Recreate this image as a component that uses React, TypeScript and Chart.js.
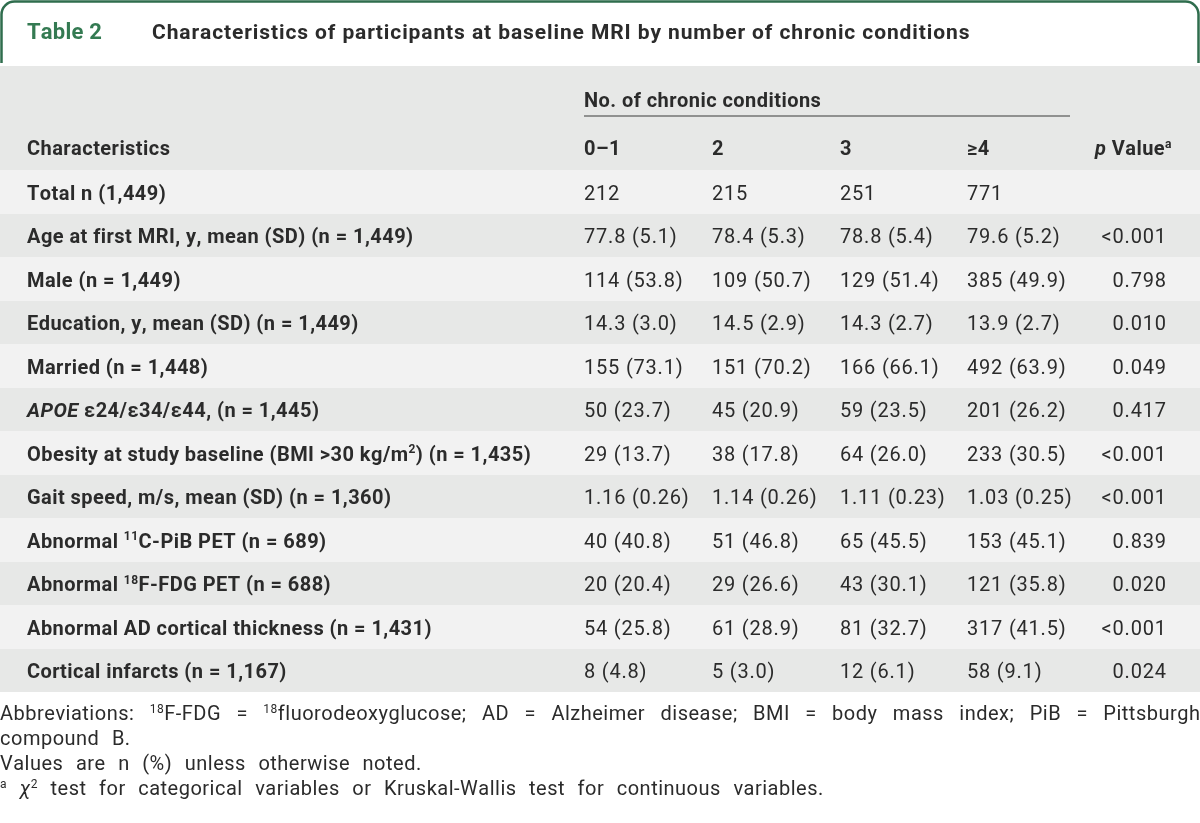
import React, { useEffect, useRef } from 'react';
import { Chart, registerables } from 'chart.js';

Chart.register(...registerables);

// ---------- data ----------
const tableNumber = 'Table 2';
const tableTitle = 'Characteristics of participants at baseline MRI by number of chronic conditions';
const spanHeader = 'No. of chronic conditions';
const stubHeader = 'Characteristics';
const groupHeaders = ['0–1', '2', '3', '≥4'];
const pHeader = '*p* Value^a^';

const rowLabels = [
  'Total n (1,449)',
  'Age at first MRI, y, mean (SD) (n = 1,449)',
  'Male (n = 1,449)',
  'Education, y, mean (SD) (n = 1,449)',
  'Married (n = 1,448)',
  '*APOE* ε24/ε34/ε44, (n = 1,445)',
  'Obesity at study baseline (BMI >30 kg/m^2^) (n = 1,435)',
  'Gait speed, m/s, mean (SD) (n = 1,360)',
  'Abnormal ^11^C-PiB PET (n = 689)',
  'Abnormal ^18^F-FDG PET (n = 688)',
  'Abnormal AD cortical thickness (n = 1,431)',
  'Cortical infarcts (n = 1,167)',
];

const group01 = ['212', '77.8 (5.1)', '114 (53.8)', '14.3 (3.0)', '155 (73.1)', '50 (23.7)', '29 (13.7)', '1.16 (0.26)', '40 (40.8)', '20 (20.4)', '54 (25.8)', '8 (4.8)'];
const group2 = ['215', '78.4 (5.3)', '109 (50.7)', '14.5 (2.9)', '151 (70.2)', '45 (20.9)', '38 (17.8)', '1.14 (0.26)', '51 (46.8)', '29 (26.6)', '61 (28.9)', '5 (3.0)'];
const group3 = ['251', '78.8 (5.4)', '129 (51.4)', '14.3 (2.7)', '166 (66.1)', '59 (23.5)', '64 (26.0)', '1.11 (0.23)', '65 (45.5)', '43 (30.1)', '81 (32.7)', '12 (6.1)'];
const group4 = ['771', '79.6 (5.2)', '385 (49.9)', '13.9 (2.7)', '492 (63.9)', '201 (26.2)', '233 (30.5)', '1.03 (0.25)', '153 (45.1)', '121 (35.8)', '317 (41.5)', '58 (9.1)'];
const pValues = ['', '<0.001', '0.798', '0.010', '0.049', '0.417', '<0.001', '<0.001', '0.839', '0.020', '<0.001', '0.024'];

const footnotes = [
  'Abbreviations: ^18^F-FDG = ^18^fluorodeoxyglucose; AD = Alzheimer disease; BMI = body mass index; PiB = Pittsburgh',
  'compound B.',
  'Values are n (%) unless otherwise noted.',
  '^a^ *χ*^2^ test for categorical variables or Kruskal-Wallis test for continuous variables.',
];

// ---------- layout / style ----------
const W = 1200;
const H = 823;
const FONT = 'Roboto, "Noto Sans", sans-serif';
const TEXT = '#2b2b2b';
const GREEN = '#2f6d4d';
const GREEN_TEXT = '#347a52';
const BAND_DARK = '#e7e8e7';
const BAND_LIGHT = '#f2f2f2';
const LAYOUT = {
  tableTop: 170,
  tableBottomPad: 131,
  stubX: 27,
  groupX: [584, 712, 840, 967],
  pRight: 1166,
  pHeaderX: 1095,
  ruleRight: 1070,
  headBandTop: 66,
};

type Seg = { t: string; sup: boolean; it: boolean };
type Style = { size: number; weight: string; color: string; ls: number; ws?: number };

const S_TITLE_NUM: Style = { size: 22, weight: 'bold', color: GREEN_TEXT, ls: 0.2 };
const S_TITLE: Style = { size: 21, weight: 'bold', color: TEXT, ls: 0.9 };
const S_HEAD: Style = { size: 20, weight: 'bold', color: TEXT, ls: 0.45 };
const S_LABEL: Style = { size: 20, weight: 'bold', color: TEXT, ls: 0.45 };
const S_VALUE: Style = { size: 20, weight: 'normal', color: TEXT, ls: 0.8 };
const S_FOOT: Style = { size: 20, weight: 'normal', color: TEXT, ls: 0.5, ws: 12.5 };

function parse(s: string): Seg[] {
  const out: Seg[] = [];
  const re = /\*([^*]+)\*|\^([^^]+)\^|([^*^]+)/g;
  let m: RegExpExecArray | null;
  while ((m = re.exec(s))) {
    if (m[1] !== undefined) out.push({ t: m[1], sup: false, it: true });
    else if (m[2] !== undefined) out.push({ t: m[2], sup: true, it: false });
    else out.push({ t: m[3], sup: false, it: false });
  }
  return out;
}

function segFont(seg: Seg, st: Style) {
  const sz = seg.sup ? Math.round(st.size * 0.62) : st.size;
  return `${seg.it ? 'italic ' : ''}${st.weight} ${sz}px ${FONT}`;
}

function charAdvance(ctx: CanvasRenderingContext2D, ch: string, st: Style) {
  if (ch === ' ' && st.ws !== undefined) return st.ws;
  return ctx.measureText(ch).width + st.ls;
}

function segWidth(ctx: CanvasRenderingContext2D, seg: Seg, st: Style) {
  ctx.font = segFont(seg, st);
  let w = 0;
  for (const ch of seg.t) w += charAdvance(ctx, ch, st);
  return w;
}

function measureRich(ctx: CanvasRenderingContext2D, s: string, st: Style) {
  let w = 0;
  for (const seg of parse(s)) w += segWidth(ctx, seg, st);
  return w;
}

function drawRich(ctx: CanvasRenderingContext2D, s: string, x: number, cy: number, st: Style, align: 'left' | 'right' = 'left') {
  const width = measureRich(ctx, s, st);
  let cx = align === 'right' ? x - width + st.ls : x;
  const base = cy + st.size * 0.36;
  ctx.fillStyle = st.color;
  ctx.textAlign = 'left';
  ctx.textBaseline = 'alphabetic';
  for (const seg of parse(s)) {
    ctx.font = segFont(seg, st);
    const yy = seg.sup ? base - st.size * 0.38 : base;
    for (const ch of seg.t) {
      if (ch !== ' ') ctx.fillText(ch, cx, yy);
      cx += charAdvance(ctx, ch, st);
    }
  }
  return width;
}

function drawJustified(ctx: CanvasRenderingContext2D, s: string, x: number, right: number, cy: number, st: Style) {
  const words = s.split(' ');
  const widths = words.map((w) => measureRich(ctx, w, st) - st.ls);
  const total = widths.reduce((a, b) => a + b, 0);
  const gap = (right - x - total) / (words.length - 1);
  let cx = x;
  words.forEach((w, i) => {
    drawRich(ctx, w, cx, cy, st);
    cx += widths[i] + gap;
  });
}

const tablePlugin = {
  id: 'tableRenderer',
  beforeDatasetsDraw(chart: any) {
    const { ctx, chartArea } = chart;
    const y = chart.scales.y;
    ctx.save();
    // title box
    ctx.strokeStyle = GREEN;
    ctx.lineWidth = 2.5;
    const r = 13;
    ctx.beginPath();
    ctx.moveTo(1.5, 63);
    ctx.lineTo(1.5, 2 + r);
    ctx.arcTo(1.5, 1.5, 1.5 + r, 1.5, r);
    ctx.lineTo(W - 1.5 - r, 1.5);
    ctx.arcTo(W - 1.5, 1.5, W - 1.5, 1.5 + r, r);
    ctx.lineTo(W - 1.5, 63);
    ctx.stroke();

    // header band
    ctx.fillStyle = BAND_DARK;
    ctx.fillRect(chartArea.left, LAYOUT.headBandTop, chartArea.width, chartArea.top - LAYOUT.headBandTop);

    // row bands
    const step = y.getPixelForValue(1) - y.getPixelForValue(0);
    rowLabels.forEach((_, i) => {
      const c = y.getPixelForValue(i);
      ctx.fillStyle = i % 2 === 0 ? BAND_LIGHT : BAND_DARK;
      const t = Math.round(c - step / 2);
      ctx.fillRect(chartArea.left, t, chartArea.width, Math.round(c + step / 2) - t);
    });
    ctx.restore();
  },
  afterDraw(chart: any) {
    const { ctx, chartArea } = chart;
    const y = chart.scales.y;
    const L = chartArea.left;
    ctx.save();

    // title
    drawRich(ctx, tableNumber, L + 27, 31, S_TITLE_NUM);
    drawRich(ctx, tableTitle, L + 152, 31, S_TITLE);

    // column headers
    const top = chartArea.top;
    drawRich(ctx, spanHeader, L + LAYOUT.groupX[0], top - 70, S_HEAD);
    ctx.strokeStyle = '#3a3a3a';
    ctx.lineWidth = 1.2;
    ctx.beginPath();
    ctx.moveTo(L + LAYOUT.groupX[0], top - 54);
    ctx.lineTo(L + LAYOUT.ruleRight, top - 54);
    ctx.stroke();
    drawRich(ctx, stubHeader, L + LAYOUT.stubX, top - 22, S_HEAD);
    groupHeaders.forEach((h, j) => drawRich(ctx, h, L + LAYOUT.groupX[j], top - 22, S_HEAD));
    drawRich(ctx, pHeader, L + LAYOUT.pHeaderX, top - 22, S_HEAD);

    // body
    const groups = [group01, group2, group3, group4];
    rowLabels.forEach((lab, i) => {
      const cy = y.getPixelForValue(i) + 1;
      drawRich(ctx, lab, L + LAYOUT.stubX, cy, S_LABEL);
      groups.forEach((g, j) => drawRich(ctx, g[i], L + LAYOUT.groupX[j], cy, S_VALUE));
      if (pValues[i]) drawRich(ctx, pValues[i], L + LAYOUT.pRight, cy, S_VALUE, 'right');
    });

    // footnotes
    const fy = chartArea.bottom + 21;
    footnotes.forEach((f, k) => {
      const cy = fy + k * 25;
      if (k === 0) drawJustified(ctx, f, 0, W, cy, S_FOOT);
      else drawRich(ctx, f, 0, cy, S_FOOT);
    });
    ctx.restore();
  },
};

export default function App() {
  const ref = useRef<HTMLCanvasElement | null>(null);
  useEffect(() => {
    if (!ref.current) return;
    const chart = new Chart(ref.current, {
      type: 'bar',
      data: { labels: rowLabels, datasets: [] },
      options: {
        indexAxis: 'y',
        animation: false,
        responsive: false,
        devicePixelRatio: 1,
        layout: { padding: { top: LAYOUT.tableTop, bottom: LAYOUT.tableBottomPad, left: 0, right: 0 } },
        plugins: { legend: { display: false }, tooltip: { enabled: false }, title: { display: false } },
        scales: {
          x: { type: 'linear', min: 0, max: 1, display: false },
          y: { type: 'category', labels: rowLabels, offset: true, display: false },
        },
      },
      plugins: [tablePlugin],
    });
    return () => chart.destroy();
  }, []);
  return (
    <div style={{ position: 'absolute', left: 0, top: 0, width: W, height: H, background: '#fff' }}>
      <canvas ref={ref} width={W} height={H} style={{ display: 'block', width: W, height: H }} />
    </div>
  );
}
